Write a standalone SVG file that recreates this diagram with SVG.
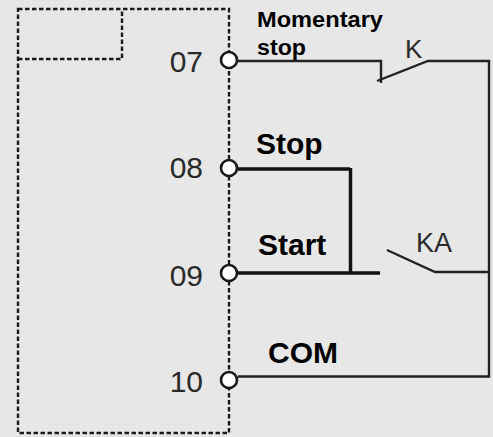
<svg xmlns="http://www.w3.org/2000/svg" width="493" height="437" viewBox="0 0 493 437">
<style>
.dash{fill:none;stroke:#1a1a1a;stroke-width:2.4;stroke-dasharray:4.5 2.5}
.w{fill:none;stroke:#222;stroke-width:2.4}
.wt{fill:none;stroke:#111;stroke-width:3.5}
.term{fill:#fff;stroke:#1a1a1a;stroke-width:2.6}
.num{font-family:"Liberation Sans",Arial,sans-serif;font-size:30px;fill:#2a2a2a}
.lbl{font-family:"Liberation Sans",Arial,sans-serif;font-weight:bold;fill:#000}
.sw{font-family:"Liberation Sans",Arial,sans-serif;fill:#2a2a2a}
</style>
<rect width="493" height="437" fill="#e7e7e7"/>
<g id="module">
<path class="dash" d="M18 9 H229 V433 H18 Z"/>
<path class="dash" d="M18 59 H122 V9"/>
</g>
<g id="connectors">
<path class="w" d="M238 61 H381 V83"/>
<path class="w" d="M377 81 L428 61 H489 V376.5 H238"/>
<path class="wt" d="M238 169 H350"/>
<path class="wt" d="M350.5 168 V272" stroke-width="4.5"/>
<path class="wt" d="M238 273 H380"/>
<path class="w" d="M387 250 L435 272 H489"/>
</g>
<g id="t07"><circle class="term" cx="229" cy="60" r="8"/><text class="num" x="203" y="72" text-anchor="end">07</text></g>
<g id="t08"><circle class="term" cx="229" cy="168" r="8"/><text class="num" x="203" y="178" text-anchor="end">08</text></g>
<g id="t09"><circle class="term" cx="229" cy="273" r="8"/><text class="num" x="203" y="286" text-anchor="end">09</text></g>
<g id="t10"><circle class="term" cx="229" cy="380" r="8"/><text class="num" x="203" y="392" text-anchor="end">10</text></g>
<g id="labels">
<text class="lbl" x="257" y="27" font-size="22" textLength="126" lengthAdjust="spacingAndGlyphs">Momentary</text>
<text class="lbl" x="257" y="55" font-size="22" textLength="49" lengthAdjust="spacingAndGlyphs">stop</text>
<text class="lbl" x="256" y="154" font-size="30">Stop</text>
<text class="lbl" x="258" y="255" font-size="30">Start</text>
<text class="lbl" x="268" y="363" font-size="30">COM</text>
<text class="sw" x="405" y="58" font-size="26">K</text>
<text class="sw" x="416" y="252" font-size="27">KA</text>
</g>
</svg>
